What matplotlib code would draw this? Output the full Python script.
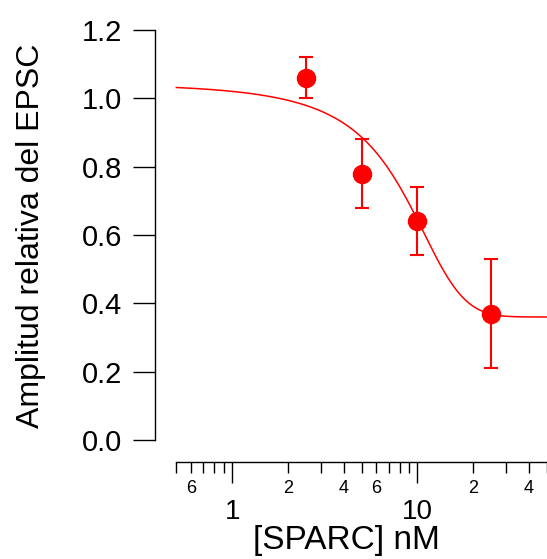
import numpy as np
import matplotlib
matplotlib.use('Agg')
import matplotlib.pyplot as plt
from matplotlib.ticker import FixedLocator, FixedFormatter

plt.rcParams['font.family'] = ['Liberation Sans', 'DejaVu Sans']

# data
conc = [2.5, 5.0, 10.0, 25.0]          # [SPARC] nM
amp = [1.06, 0.78, 0.64, 0.37]         # relative EPSC amplitude
amp_err = [0.06, 0.10, 0.10, 0.16]

# sigmoid fit parameters (estimated from the drawn curve)
fit_base = 0.36
fit_max = 0.765
fit_xhalf = 8.0
fit_rate = -3.8
fit_range = [0.5, 50.0]

y_ticks = [0.0, 0.2, 0.4, 0.6, 0.8, 1.0, 1.2]
x_major = [1, 10]
x_minor = [0.5, 0.6, 0.7, 0.8, 0.9, 2, 3, 4, 5, 6, 7, 8, 9, 20, 30, 40, 50]
x_minor_labels = {0.6: '6', 2: '2', 4: '4', 6: '6', 20: '2', 40: '4'}

red = '#ff0000'

fig = plt.figure(figsize=(5.47, 5.59), dpi=100)
W, H = 547, 559
ax = fig.add_axes([155 / W, (H - 440) / H, (547 - 155) / W, 410 / H])

x_left = 10 ** ((155 - 232) / 185)
ax.set_xscale('log')
ax.set_xlim(x_left, 50)
ax.set_ylim(0, 1.2)

xs = np.logspace(np.log10(fit_range[0]), np.log10(fit_range[1]), 400)
ys = fit_base + fit_max / (1 + np.exp((fit_xhalf - xs) / fit_rate))
ax.plot(xs, ys, color=red, lw=1.1, clip_on=False)

ax.errorbar(conc, amp, yerr=amp_err, fmt='o', color=red, ms=13,
            elinewidth=1.5, capsize=5, capthick=1.5, clip_on=False)

for s in ['top', 'right']:
    ax.spines[s].set_visible(False)
ax.spines['left'].set_linewidth(1.0)
ax.spines['bottom'].set_linewidth(1.0)
ax.spines['bottom'].set_position(('outward', 16))
ax.spines['bottom'].set_bounds(0.5, 50)

ax.set_yticks(y_ticks)
ax.set_yticklabels(['%.1f' % v for v in y_ticks])
ax.tick_params(axis='y', direction='out', length=15.5, width=1.0,
               labelsize=21, pad=8)

ax.xaxis.set_major_locator(FixedLocator(x_major))
ax.xaxis.set_major_formatter(FixedFormatter([str(v) for v in x_major]))
ax.xaxis.set_minor_locator(FixedLocator(x_minor))
ax.xaxis.set_minor_formatter(FixedFormatter([x_minor_labels.get(v, '') for v in x_minor]))
ax.tick_params(axis='x', which='major', direction='out', length=15, width=1.0,
               labelsize=20, pad=11.5)
ax.tick_params(axis='x', which='minor', direction='out', length=8, width=1.0,
               labelsize=13, pad=5)

fig.text(31 / W, 1 - 236 / H, 'Amplitud relativa del EPSC', fontsize=23,
         rotation=90, ha='center', va='center')
fig.text(346 / W, 1 - 541 / H, '[SPARC] nM', fontsize=24, ha='center', va='center')

fig.savefig('out.png', dpi=100)
